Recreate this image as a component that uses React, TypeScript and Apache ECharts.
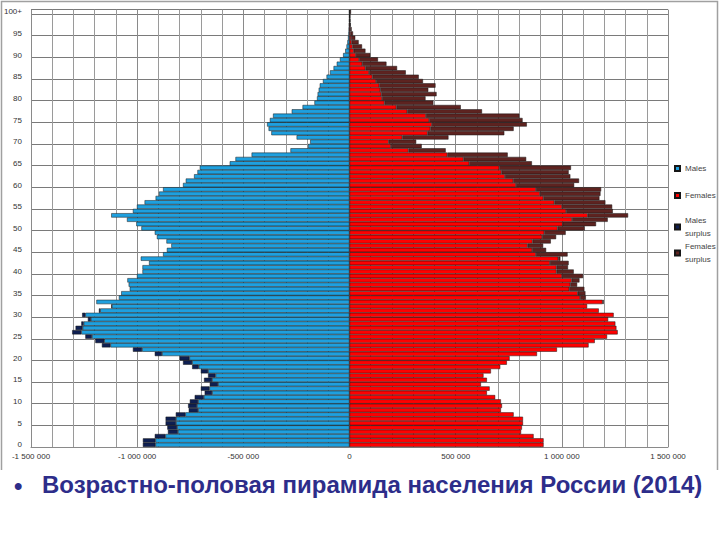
import React from 'react';
import * as echarts from 'echarts';

// возраст 0..100+
const ages = Array.from({ length: 101 }, (_, i) => (i === 100 ? '100+' : String(i)));

// тыс. человек, по возрасту 0..100+
const males = [
  973, 973, 917, 855, 858, 866, 866, 818, 757, 760,
  752, 729, 682, 700, 658, 685, 666, 700, 741, 784,
  800, 917, 1020, 1166, 1197, 1244, 1306, 1290, 1263, 1232,
  1259, 1180, 1122, 1192, 1086, 1075, 1035, 1040, 1046, 1001,
  975, 975, 944, 983, 878, 860, 839, 862, 907, 917,
  980, 1004, 1048, 1122, 1020, 1001, 965, 913, 897, 878,
  784, 771, 732, 716, 705, 564, 537, 461, 278, 195,
  185, 249, 368, 381, 388, 375, 360, 272, 221, 165,
  153, 150, 145, 140, 125, 108, 92, 75, 60, 45,
  30, 20, 14, 10, 7, 5, 4, 3, 2, 1.5, 2,
];

const females = [
  914, 914, 867, 808, 812, 817, 817, 773, 713, 718,
  713, 686, 647, 660, 619, 647, 631, 666, 710, 741,
  754, 883, 977, 1126, 1155, 1213, 1263, 1257, 1252, 1218,
  1244, 1174, 1119, 1197, 1113, 1111, 1106, 1072, 1083, 1100,
  1056, 1029, 1032, 993, 1027, 926, 912, 948, 973, 1018,
  1108, 1161, 1216, 1312, 1240, 1237, 1205, 1177, 1182, 1185,
  1058, 1081, 1040, 1032, 1043, 859, 832, 745, 453, 340,
  314, 466, 729, 773, 835, 815, 800, 624, 524, 395,
  358, 410, 371, 405, 346, 326, 265, 224, 174, 134,
  98, 75, 59, 43, 27, 16.5, 10, 6, 4, 3, 7,
];

const xTicks = [-1500, -1000, -500, 0, 500, 1000, 1500];

const fmt = (v: number) => {
  const s = String(Math.abs(v * 1000)).replace(/\B(?=(\d{3})+(?!\d))/g, ' ');
  return v < 0 ? '-' + s : s;
};

const App = () => {
  const chartRef = React.useRef(null);

  React.useEffect(() => {
    document.body.style.margin = '0';
    const myChart = echarts.init(chartRef.current, null, { renderer: 'svg' });

    const base = males.map((m, i) => Math.min(m, females[i]));
    const mSurplus = males.map((m, i) => (m > females[i] ? -(m - females[i]) : null));
    const fSurplus = females.map((f, i) => (f > males[i] ? f - males[i] : null));

    const bar = (name: string, data: any[], color: string) => ({
      name,
      type: 'bar',
      stack: 'pyramid',
      data,
      barCategoryGap: '0%',
      itemStyle: { color, borderColor: '#161616', borderWidth: 0.5 },
    });

    const legendItem = (name: string, top: number) => ({
      data: [name],
      left: 669,
      top,
      orient: 'vertical',
      icon: 'rect',
      itemWidth: 5,
      itemHeight: 5,
      itemGap: 0,
      formatter: (n: string) => n.replace(' ', '\n'),
      textStyle: { fontSize: 8, color: '#444', lineHeight: 13, fontFamily: 'Liberation Sans' },
    });

    myChart.setOption({
      animation: false,
      textStyle: { fontFamily: 'Liberation Sans' },
      grid: { left: 31, right: 52, top: 9.7, bottom: 93 },
      legend: [
        legendItem('Males', 157),
        legendItem('Females', 184),
        legendItem('Males surplus', 209),
        legendItem('Females surplus', 235),
      ],
      xAxis: {
        type: 'value',
        min: xTicks[0],
        max: xTicks[xTicks.length - 1],
        interval: 500,
        axisLine: { show: true, lineStyle: { color: '#8a8a8a' } },
        axisTick: { show: false },
        axisLabel: { fontSize: 8, color: '#333', margin: 5, formatter: fmt },
        splitLine: { show: true, lineStyle: { color: '#8a8a8a', width: 1 } },
        minorTick: { show: false, splitNumber: 5 },
        minorSplitLine: { show: true, lineStyle: { color: '#9a9a9a', width: 1 } },
      },
      yAxis: {
        type: 'category',
        data: ages,
        axisLine: { show: true, lineStyle: { color: '#8a8a8a' } },
        axisTick: { show: false },
        axisLabel: { interval: 4, fontSize: 8, color: '#333', margin: 9 },
        splitLine: { show: true, interval: 4, lineStyle: { color: '#7a7a7a', width: 1 } },
      },
      series: [
        bar('Males', base.map((v) => -v), '#1ea0df'),
        bar('Females', base, '#ff0000'),
        bar('Males surplus', mSurplus, '#0e1f52'),
        bar('Females surplus', fSurplus, '#5e2320'),
      ],
      graphic: [
        {
          type: 'polyline',
          shape: { points: [[1.5, 470], [1.5, 1.5], [717.5, 1.5], [717.5, 470]] },
          style: { stroke: '#a0a0a0', lineWidth: 1.5, fill: null },
          silent: true,
        },
        {
          type: 'text',
          left: 14,
          top: 473,
          style: { text: '•', fontSize: 24, fontWeight: 'bold', fill: '#2d2d8a', fontFamily: 'Liberation Sans' },
        },
        {
          type: 'text',
          left: 42,
          top: 472,
          style: {
            text: 'Возрастно-половая пирамида населения России (2014)',
            fontSize: 24,
            fontWeight: 'bold',
            fill: '#2d2d8a',
            fontFamily: 'Liberation Sans',
          },
        },
      ],
    });

    return () => {
      myChart.dispose();
    };
  }, []);

  return <div ref={chartRef} style={{ width: '720px', height: '540px' }} />;
};

export default App;
